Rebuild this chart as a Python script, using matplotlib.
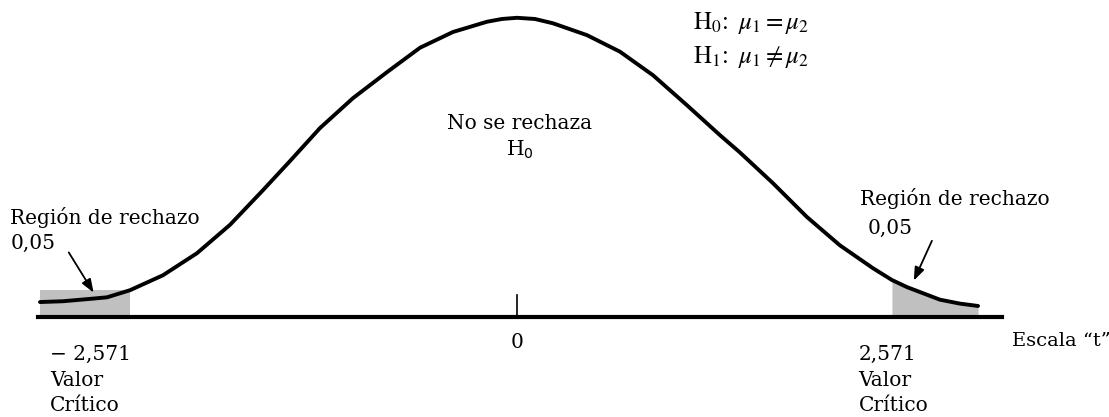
import numpy as np
import matplotlib
matplotlib.use("Agg")
import matplotlib.pyplot as plt

# curve (t scale, relative density)
t_vals = np.array([-3.267, -3.110, -2.925, -2.808, -2.651, -2.425, -2.192, -1.966,
                   -1.740, -1.555, -1.349, -1.123, -0.890, -0.664, -0.438, -0.205,
                   -0.103, 0.000, 0.123, 0.247, 0.479, 0.705, 0.932, 1.164, 1.390,
                   1.527, 1.753, 1.986, 2.212, 2.438, 2.568, 2.671, 2.897, 3.034,
                   3.158])
dens_vals = np.array([0.019, 0.020, 0.023, 0.025, 0.034, 0.053, 0.081, 0.117,
                      0.161, 0.198, 0.240, 0.278, 0.311, 0.342, 0.362, 0.375,
                      0.3785, 0.380, 0.3785, 0.373, 0.358, 0.337, 0.307, 0.269, 0.231,
                      0.209, 0.170, 0.127, 0.091, 0.062, 0.047, 0.038, 0.022, 0.017,
                      0.014])

reject_left = -2.651   # edge of left grey area
reject_right = 2.568   # edge of right grey area
crit_labels = ["\u2212 2,571", "2,571"]

fig = plt.figure(figsize=(11.09, 4.17), dpi=100)
ax = fig.add_axes([0, 0, 1, 1])
ax.set_xlim(-3.541, 4.055)
ax.set_ylim(-0.127, 0.4026)
ax.axis("off")

grey = "#c0c0c0"
left = t_vals <= reject_left
edge_h = dens_vals[left][-1]
ax.fill_between(t_vals[left], 0, np.full(left.sum(), edge_h), color=grey, lw=0)
ax.fill_between(t_vals, 0, dens_vals, where=t_vals >= reject_right, color=grey, lw=0)
ax.plot(t_vals, dens_vals, color="black", lw=2.8, solid_capstyle="round",
        solid_joinstyle="round")

# t axis + tick at 0
ax.plot([-3.28, 3.32], [0, 0], color="black", lw=3)
ax.plot([0, 0], [0, 0.028], color="black", lw=1.2)

fs = 14.5
serif = "DejaVu Serif"
ax.text(0, -0.032, "0", ha="center", va="center", fontsize=fs, family=serif)
ax.text(3.39, -0.030, "Escala \u201ct\u201d", ha="left", va="center", fontsize=14, family=serif)

for x0, lab in zip([-3.20, 2.34], crit_labels):
    ax.text(x0, -0.047, lab, ha="left", va="center", fontsize=fs, family=serif)
    ax.text(x0, -0.081, "Valor", ha="left", va="center", fontsize=fs, family=serif)
    ax.text(x0, -0.113, "Cr\u00edtico", ha="left", va="center", fontsize=fs, family=serif)

ax.text(-3.47, 0.127, "Regi\u00f3n de rechazo", ha="left", va="center", fontsize=fs, family=serif)
ax.text(-3.47, 0.093, "0,05", ha="left", va="center", fontsize=fs, family=serif)
ax.text(2.35, 0.150, "Regi\u00f3n de rechazo", ha="left", va="center", fontsize=fs, family=serif)
ax.text(2.40, 0.113, "0,05", ha="left", va="center", fontsize=fs, family=serif)

arrow = dict(arrowstyle="-|>,head_length=0.8,head_width=0.3", color="black", lw=1.3)
ax.annotate("", xy=(-2.89, 0.028), xytext=(-3.08, 0.085), arrowprops=arrow)
ax.annotate("", xy=(2.71, 0.043), xytext=(2.85, 0.100), arrowprops=arrow)

ax.text(0.02, 0.246, "No se rechaza", ha="center", va="center", fontsize=fs, family=serif)
ax.text(0.02, 0.212, r"H$_0$", ha="center", va="center", fontsize=fs, family=serif)

plt.rcParams["mathtext.fontset"] = "stix"
ax.text(1.205, 0.373, r"$\mathrm{H}_0\!:\ \mu_1 = \mu_2$", ha="left", va="center", fontsize=18)
ax.text(1.205, 0.330, r"$\mathrm{H}_1\!:\ \mu_1 \neq \mu_2$", ha="left", va="center", fontsize=18)

fig.savefig("out.png", dpi=100)
